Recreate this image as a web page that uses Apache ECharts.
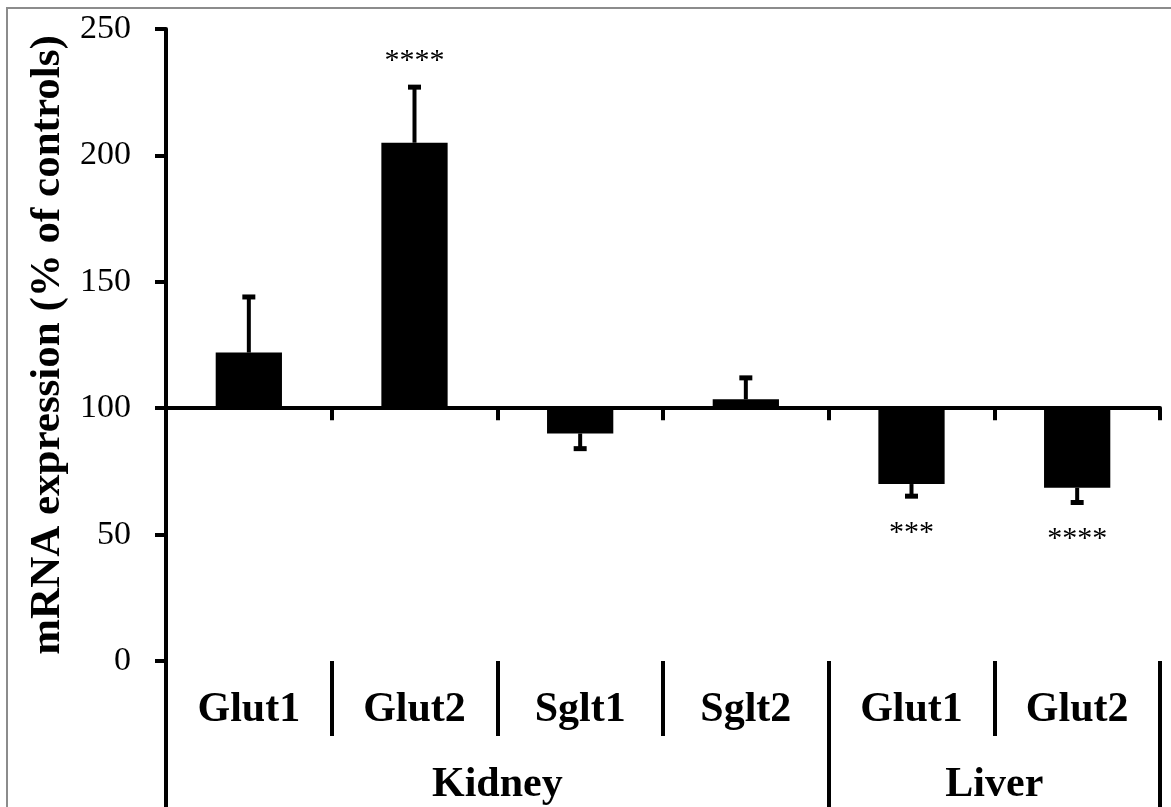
<!DOCTYPE html>
<html>
<head>
<meta charset="utf-8">
<script src="https://cdn.jsdelivr.net/npm/echarts@6/dist/echarts.min.js"></script>
<style>
html, body { margin: 0; padding: 0; background: #fff; }
#c { width: 1171px; height: 807px; }
</style>
</head>
<body>
<div id="c"></div>
<script>
// ---- data ----
const genes = ['Glut1', 'Glut2', 'Sglt1', 'Sglt2', 'Glut1', 'Glut2'];
const tissues = ['Kidney', 'Kidney', 'Kidney', 'Kidney', 'Liver', 'Liver'];
const expression = [122, 205, 90, 103.5, 70, 68.5];   // % of controls
const errors = [22, 22, 6, 8.5, 4.8, 5.8];             // one-sided error bars
const significance = ['', '****', '', '', '***', '****'];
const BASE = 100;                                       // control level (bars start here)
const Y_MIN = 0, Y_MAX = 250, Y_STEP = 50;
const Y_TITLE = 'mRNA expression (% of controls)';

// ---- derived group spans ----
const groups = [];
tissues.forEach((t, i) => {
  const g = groups[groups.length - 1];
  if (g && g.name === t) g.end = i + 1;
  else groups.push({ name: t, start: i, end: i + 1 });
});
const groupBounds = [0].concat(groups.map(g => g.end));
const groupCenters = groups.map(g => (g.start + g.end) / 2);

const FONT = "'Liberation Serif', 'Times New Roman', serif";
const BLACK = '#000';

const chart = echarts.init(document.getElementById('c'), null, { renderer: 'canvas' });

const option = {
  animation: false,
  backgroundColor: '#fff',
  graphic: [{
    type: 'rect', silent: true, z: -10,
    shape: { x: 7, y: 8, width: 1250, height: 900 },
    style: { fill: 'none', stroke: '#8c8c8c', lineWidth: 2 }
  }],
  grid: { left: 166, right: 11, top: 29, bottom: 146, containLabel: false, outerBoundsMode: 'none' },
  xAxis: [
    {
      type: 'category', data: genes, position: 'bottom',
      axisLine: { show: true, onZero: true, lineStyle: { color: BLACK, width: 4 } },
      axisTick: { show: true, length: 12, lineStyle: { color: BLACK, width: 4 } },
      axisLabel: { show: false },
      splitLine: { show: false }
    },
    {
      type: 'category', data: genes, position: 'bottom',
      axisLine: { show: false, onZero: false },
      axisTick: { show: true, length: 75, lineStyle: { color: BLACK, width: 4 } },
      axisLabel: {
        show: true, interval: 0, margin: 28, color: BLACK,
        fontFamily: FONT, fontWeight: 'bold', fontSize: 42, lineHeight: 42
      },
      splitLine: { show: false }
    },
    {
      type: 'value', min: 0, max: genes.length, position: 'bottom',
      axisLine: { show: false, onZero: false },
      axisTick: { show: true, length: 146, customValues: groupBounds, lineStyle: { color: BLACK, width: 4 } },
      axisLabel: {
        show: true, customValues: groupCenters, margin: 103, color: BLACK,
        fontFamily: FONT, fontWeight: 'bold', fontSize: 42, lineHeight: 42,
        formatter: v => { const g = groups.find(gr => (gr.start + gr.end) / 2 === v); return g ? g.name : ''; }
      },
      splitLine: { show: false }
    }
  ],
  yAxis: {
    type: 'value', min: Y_MIN - BASE, max: Y_MAX - BASE, interval: Y_STEP,
    axisLine: { show: true, onZero: false, lineStyle: { color: BLACK, width: 4 } },
    axisTick: { show: true, length: 11, lineStyle: { color: BLACK, width: 4 } },
    axisLabel: { formatter: v => String(v + BASE), margin: 35, color: BLACK, fontFamily: FONT, fontSize: 34 },
    splitLine: { show: false },
    name: Y_TITLE, nameLocation: 'middle', nameRotate: 90, nameGap: 87,
    nameTextStyle: { color: BLACK, fontFamily: FONT, fontWeight: 'bold', fontSize: 43 }
  },
  series: [
    {
      type: 'bar', xAxisIndex: 0, yAxisIndex: 0,
      data: expression.map(v => v - BASE),
      barWidth: '40%',
      itemStyle: { color: BLACK },
      z: 2
    },
    {
      type: 'custom', xAxisIndex: 0, yAxisIndex: 0, z: 3,
      data: expression.map((v, i) => [i, v - BASE, errors[i]]),
      renderItem: (params, api) => {
        const i = api.value(0), v = api.value(1), e = api.value(2);
        const dir = v >= 0 ? 1 : -1;
        const p0 = api.coord([i, v]);
        const p1 = api.coord([i, v + dir * e]);
        const children = [
          { type: 'line', shape: { x1: p0[0], y1: p0[1], x2: p1[0], y2: p1[1] }, style: { stroke: BLACK, lineWidth: 4 } },
          { type: 'line', shape: { x1: p1[0] - 6.5, y1: p1[1], x2: p1[0] + 6.5, y2: p1[1] }, style: { stroke: BLACK, lineWidth: 5 } }
        ];
        const s = significance[params.dataIndex];
        if (s) {
          children.push({
            type: 'text', x: p1[0], y: p1[1] + (dir > 0 ? -26 : 37),
            style: { text: s, fill: BLACK, fontFamily: FONT, fontSize: 30, align: 'center', verticalAlign: 'middle' }
          });
        }
        return { type: 'group', children };
      }
    }
  ]
};
chart.setOption(option);
</script>
</body>
</html>
